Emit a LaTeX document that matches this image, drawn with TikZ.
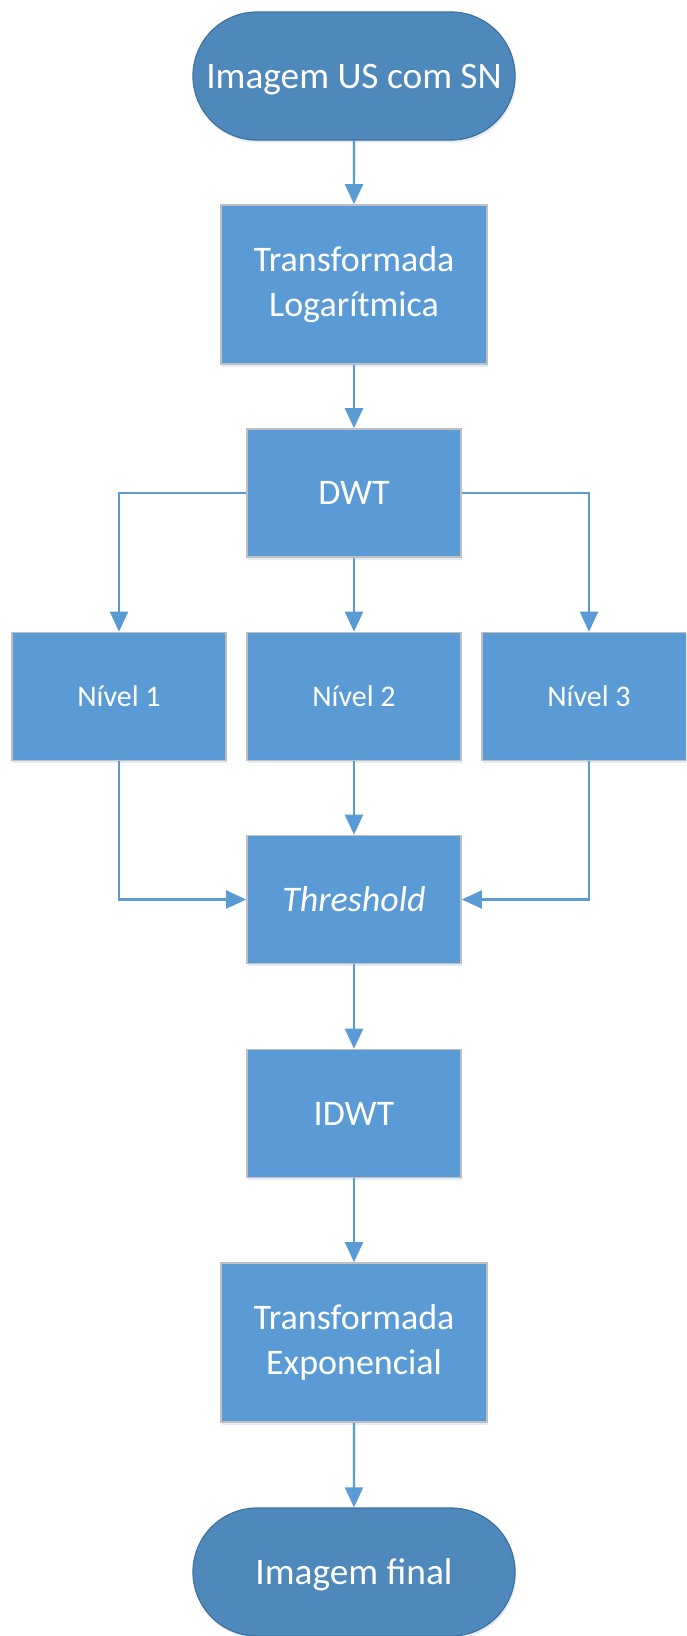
\documentclass[tikz,border=0pt]{standalone}
\usepackage{fontspec}
\setmainfont{Carlito}
\usetikzlibrary{arrows.meta,shapes.misc,shadows}
\definecolor{boxblue}{HTML}{5B9BD5}
\definecolor{termblue}{HTML}{4F88BB}
\definecolor{termedge}{HTML}{41719C}
\definecolor{boxedge}{HTML}{BFBFBF}
\begin{document}
\begin{tikzpicture}[x=0.75pt,y=-0.75pt,
  shad/.style={drop shadow={opacity=0.18,shadow xshift=1pt,shadow yshift=-2pt,fill=boxblue}},
  procbox/.style={rectangle,fill=boxblue,draw=boxedge,line width=1.2pt,text=white,
    minimum width=160.5pt,minimum height=96pt,inner sep=0pt,align=center,
    font=\fontsize{27}{34}\selectfont,shad},
  widebox/.style={procbox,minimum width=199.5pt,minimum height=119.25pt},
  lvlbox/.style={procbox,font=\fontsize{22.5}{27}\selectfont},
  term/.style={rounded rectangle,fill=termblue,draw=termedge,line width=0.9pt,text=white,
    minimum width=241.5pt,minimum height=96pt,inner sep=0pt,text depth=0pt,
    font=\fontsize{28}{34}\selectfont,shad},
  conn/.style={draw=boxblue,line width=1.6pt,-{Triangle[width=13.5pt,length=15pt]}}]
\useasboundingbox (0,0) rectangle (686,1636);
\clip (0,0) rectangle (686,1636);
\fill[white] (0,0) rectangle (686,1636);
\node[term] (start) at (354,76) {Imagem US com SN};
\node[widebox] (trlog) at (354,284.5) {Transformada\\Logarítmica};
\node[procbox] (dwt) at (354,493) {DWT};
\node[lvlbox] (n1) at (119,696.5) {Nível 1};
\node[lvlbox] (n2) at (354,696.5) {Nível 2};
\node[lvlbox] (n3) at (589,696.5) {Nível 3};
\node[procbox] (thr) at (354,899.5) {\itshape Threshold};
\node[procbox] (idwt) at (354,1113.5) {IDWT};
\node[widebox] (trexp) at (354,1342.5) {Transformada\\Exponencial};
\node[term] (end) at (354,1572) {Imagem final};
\draw[conn] (start) -- (trlog);
\draw[conn] (trlog) -- (dwt);
\draw[conn] (dwt.west) -| (n1.north);
\draw[conn] (dwt) -- (n2);
\draw[conn] (dwt.east) -| (n3.north);
\draw[conn] (n1.south) |- (thr.west);
\draw[conn] (n2) -- (thr);
\draw[conn] (n3.south) |- (thr.east);
\draw[conn] (thr) -- (idwt);
\draw[conn] (idwt) -- (trexp);
\draw[conn] (trexp) -- (end);
\end{tikzpicture}
\end{document}
